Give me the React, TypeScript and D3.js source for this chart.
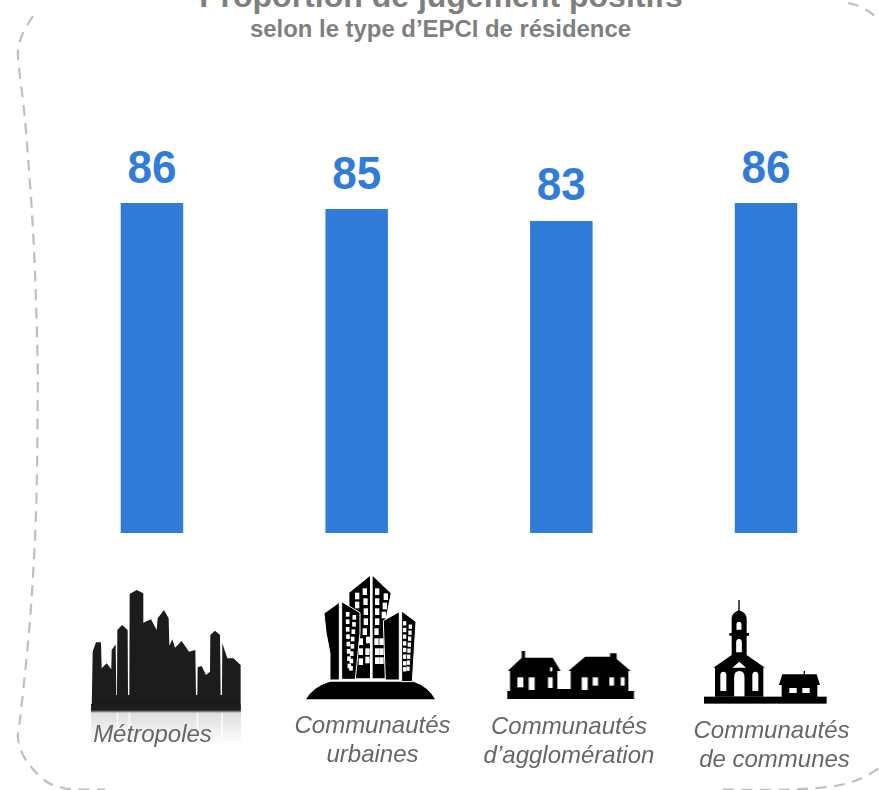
import React from "react";
import * as d3 from "d3";

const categories = ["Métropoles", "Communautés urbaines", "Communautés d’agglomération", "Communautés de communes"];
const values = [86, 85, 83, 86];
const valueLabelLift = [20, 20, 21, 20];
const labelLines = [["Métropoles"], ["Communautés", "urbaines"], ["Communautés", "d’agglomération"], ["Communautés", "de communes"]];
const labelCenters = [[152.5], [372.5, 372.5], [569, 569], [771.5, 774.5]];
const labelBaselines = [[742], [733, 762], [734, 763], [738, 767]];

const WIDTH = 879;
const HEIGHT = 790;

const x = d3.scaleBand<string>().domain(categories).range([49.7, 868.3]).paddingInner(0.6947).paddingOuter(0.347);
const y = d3.scaleLinear().domain([31, 86]).range([533, 203]);

const borderLeft: [number, number][] = [[33, 16], [23, 33], [18, 50], [19, 67], [24, 110], [28, 157], [32, 213], [35, 273], [37.7, 367], [37.7, 400], [36, 513], [30, 620], [20, 720], [18, 738], [23, 755], [32, 768], [47, 782], [63, 788], [80, 789.5], [105, 789.5]];
const borderBottom: [number, number][] = [[723, 789.5], [790, 789.5], [840, 785], [862, 778], [879, 768]];
const borderTop: [number, number][] = [[848, 3], [856, 5], [871, 13], [879, 21]];
const borderPath = d3.line().curve(d3.curveCatmullRom);

const skylinePts = "5,390 8,215 18,187 33,187 35,265 50,250 64,268 65,210 77,193 79,345 81,345 82,150 96,135 113,150 114,345 118,345 119,42 140,30 160,40 160,128 183,118 200,150 203,115 222,90 236,115 238,197 247,178 255,203 275,183 297,215 316,210 318,345 322,345 323,262 335,258 348,285 360,275 361,165 375,152 390,165 392,345 396,345 397,190 412,235 430,235 452,255 452,390";

const midWindows: [number, number][] = [[172, 78], [195, 65], [172, 105], [197, 95], [198, 125], [198, 155], [195, 185], [183, 215], [205, 210], [183, 245], [203, 245], [183, 275], [203, 270], [232, 65], [258, 80], [232, 95], [255, 108], [232, 125], [252, 135], [232, 155], [230, 185], [230, 215], [245, 215], [232, 245], [245, 245], [232, 272], [245, 272]];
const leftWindows: [number, number][] = [[143, 133], [163, 142], [143, 155], [162, 163], [143, 178], [160, 185], [144, 200], [158, 207], [145, 222], [157, 229], [146, 244], [155, 251], [147, 266], [154, 273], [148, 288], [153, 295]];
const rightWindows: [number, number][] = [[314, 160], [331, 170], [314, 180], [330, 188], [314, 200], [329, 206], [314, 220], [328, 224], [314, 240], [327, 242], [314, 260], [326, 260], [314, 280], [325, 278], [314, 298], [324, 296]];

function Arch({ cx, top, bottom, w }: { cx: number; top: number; bottom: number; w: number }) {
  const r = w / 2;
  return <path d={`M${cx - r},${bottom} V${top + r * 1.2} Q${cx - r},${top} ${cx},${top} Q${cx + r},${top} ${cx + r},${top + r * 1.2} V${bottom} Z`} fill="#fff" />;
}

function Metropole() {
  return (
    <g>
      <rect x={91} y={711} width={150} height={34} fill="url(#reflect)" />
      {[116.5, 128.5, 196.5, 221].map((sx) => <rect key={sx} x={sx} y={712} width={2} height={25} fill="#fff" opacity={0.7} />)}
      <g transform="translate(90,580) scale(0.3333)">
        <polygon points={skylinePts} fill="#1e1a1a" />
        <rect x={3} y={372} width={449} height={22} fill="#1e1a1a" />
        <rect x={3} y={392} width={449} height={5} fill="#777" />
      </g>
    </g>
  );
}

function Towers() {
  return (
    <g transform="translate(300,570) scale(0.3333)" fill="#000">
      <path d="M18,388 Q40,350 90,335 L340,335 Q385,350 405,388 Z" />
      <path d="M148,68 L210,18 V325 H150 Z" />
      <path d="M218,18 L272,70 L255,155 V325 H218 Z" />
      {midWindows.map(([wx, wy]) => <rect key={`${wx}-${wy}`} x={wx - 7} y={wy - 10} width={13} height={20} fill="#fff" />)}
      <path d="M72,130 L118,97 V330 H90 V250 Q76,190 72,130 Z" stroke="#fff" strokeWidth={3} />
      <path d="M125,95 L180,128 L180,190 L166,328 H125 Z" stroke="#fff" strokeWidth={3} />
      {leftWindows.map(([wx, wy]) => <rect key={`${wx}-${wy}`} x={wx - 5.5} y={wy - 7} width={11} height={14} fill="#fff" />)}
      <path d="M250,152 L298,125 V330 H256 Z" stroke="#fff" strokeWidth={3} />
      <path d="M305,123 L348,155 L337,335 H305 Z" stroke="#fff" strokeWidth={3} />
      {rightWindows.map(([wx, wy]) => <rect key={`${wx}-${wy}`} x={wx - 5} y={wy - 6.5} width={10} height={13} fill="#fff" />)}
    </g>
  );
}

function Houses() {
  const white: [number, number, number, number][] = [[52, 97, 18, 30], [86, 97, 18, 38], [144, 97, 14, 32], [150, 67, 7, 12], [245, 97, 18, 38], [278, 97, 16, 25], [328, 97, 14, 25], [362, 97, 12, 25]];
  return (
    <g transform="translate(500,645) scale(0.3333)" fill="#000">
      <rect x={22} y={138} width={380} height={24} />
      <polygon points="65,18 75,18 75,38 158,38 182,78 172,78 172,132 212,132 212,78 205,78 255,35 330,35 330,25 350,25 350,42 392,78 385,78 385,140 30,140 30,78 23,78 65,38" />
      {white.map(([a, b, w, h]) => <rect key={`${a}-${b}`} x={a} y={b} width={w} height={h} fill="#fff" />)}
    </g>
  );
}

function Church() {
  return (
    <g transform="translate(700,595) scale(0.3333)" fill="#000">
      <rect x={12} y={305} width={368} height={21} />
      <rect x={115} y={15} width={4} height={35} />
      <path d="M95,68 Q98,52 117,46 Q137,52 140,68 V114 H147 V122 H140 V180 L195,218 H190 V305 H45 V218 H40 L95,180 V122 H88 V114 H95 Z" />
      <Arch cx={117} top={80} bottom={104} w={15} />
      <Arch cx={117} top={132} bottom={172} w={17} />
      <Arch cx={70} top={230} bottom={288} w={18} />
      <Arch cx={118} top={228} bottom={304} w={31} />
      <Arch cx={166} top={230} bottom={288} w={18} />
      <polygon points="97,218 118,200 138,218" fill="#fff" />
      <rect x={311} y={228} width={4} height={12} />
      <polygon points="247,238 350,238 360,270 352,270 352,306 245,306 245,270 237,270" />
      <rect x={268} y={279} width={22} height={15} fill="#fff" />
      <rect x={307} y={279} width={22} height={15} fill="#fff" />
    </g>
  );
}

export default function App() {
  const font = "'Liberation Sans', Arial, sans-serif";
  const band = x.bandwidth();
  return (
    <svg width={WIDTH} height={HEIGHT} viewBox={`0 0 ${WIDTH} ${HEIGHT}`} style={{ position: "absolute", left: 0, top: 0, display: "block" }} fontFamily={font}>
      <defs>
        <linearGradient id="reflect" x1="0" y1="0" x2="0" y2="1">
          <stop offset="0" stopColor="#dcdcdc" />
          <stop offset="1" stopColor="#ffffff" />
        </linearGradient>
        <filter id="soft" x="-5%" y="-5%" width="110%" height="110%">
          <feGaussianBlur stdDeviation="0.45" />
        </filter>
      </defs>
      <g fill="none" stroke="#bfbfbf" strokeWidth={2.2} strokeDasharray="11 7.5">
        <path d={borderPath(borderLeft) ?? ""} />
        <path d={borderPath(borderBottom) ?? ""} />
        <path d={borderPath(borderTop) ?? ""} />
      </g>
      <text x={441} y={7} textAnchor="middle" fontSize={32} fontWeight={700} fill="#7f7f7f">Proportion de jugement positifs</text>
      <text x={440.5} y={37} textAnchor="middle" fontSize={24} fontWeight={700} fill="#7f7f7f" textLength={381} lengthAdjust="spacingAndGlyphs">selon le type d’EPCI de résidence</text>
      {categories.map((c, i) => {
        const bx = x(c) ?? 0;
        return (
          <g key={c}>
            <rect x={bx} y={y(values[i])} width={band} height={y.range()[0] - y(values[i])} fill="#317cd9" />
            <text x={bx + band / 2} y={y(values[i]) - valueLabelLift[i]} textAnchor="middle" fontSize={46} fontWeight={700} fill="#317cd9" textLength={49} lengthAdjust="spacingAndGlyphs">{values[i]}</text>
          </g>
        );
      })}
      <g filter="url(#soft)">
        <Metropole />
        <Towers />
        <Houses />
        <Church />
      </g>
      {labelLines.map((lines, i) =>
        lines.map((l, j) => (
          <text key={`${i}-${j}`} x={labelCenters[i][j]} y={labelBaselines[i][j]} textAnchor="middle" fontSize={24} fontStyle="italic" fill="#666">{l}</text>
        ))
      )}
    </svg>
  );
}
